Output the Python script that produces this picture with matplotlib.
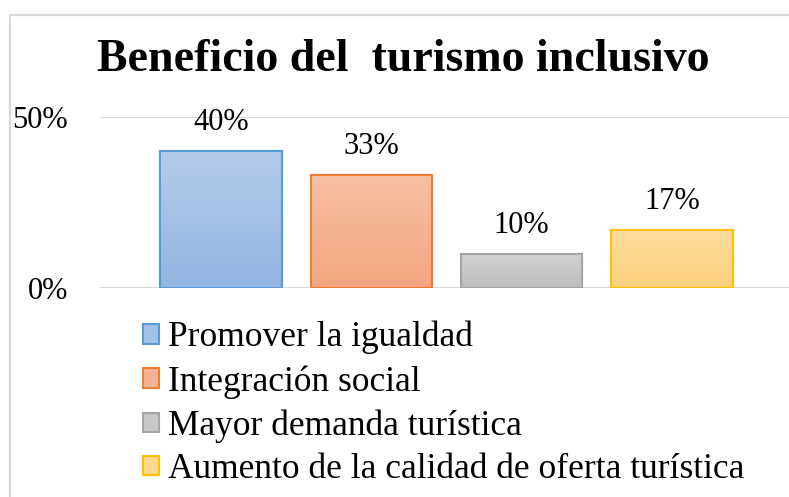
import numpy as np
import matplotlib
matplotlib.use("Agg")
import matplotlib.pyplot as plt
from matplotlib.colors import LinearSegmentedColormap
from matplotlib.lines import Line2D

plt.rcParams['font.family'] = ['Liberation Serif', 'DejaVu Serif']

# data
categories = ["Promover la igualdad", "Integración social",
              "Mayor demanda turística", "Aumento de la calidad de oferta turística"]
values = [0.40, 0.33, 0.10, 0.17]
value_labels = ["40%", "33%", "10%", "17%"]
ytick_values = [0.0, 0.5]
ytick_labels = ["0%", "50%"]

top_colors = ["#b4cceb", "#f7c0a4", "#d2d2d2", "#fedc9d"]
bottom_colors = ["#92b5e1", "#f4a580", "#bdbdbd", "#fdd27f"]
edge_colors = ["#5b9bd5", "#ed7d31", "#a5a5a5", "#ffc000"]
legend_colors = ["#a4c1e7", "#f5b294", "#c8c8c8", "#fed88f"]

W, H = 789, 497
fig = plt.figure(figsize=(W / 100, H / 100), dpi=100)

# chart area border (left and top only visible)
fig.add_artist(Line2D([10 / W, 10 / W], [0, 1 - 15 / H], color="#d9d9d9", lw=1.6))
fig.add_artist(Line2D([10 / W, 1], [1 - 15 / H, 1 - 15 / H], color="#d9d9d9", lw=1.6))

ax = fig.add_axes([100 / W, 1 - 288 / H, 1 - 100 / W, (288 - 117) / H])

x = np.arange(len(values))
width = 0.81
bars = ax.bar(x, values, width, color=legend_colors, edgecolor=edge_colors,
              linewidth=1.5, zorder=3)

# vertical gradient inside each bar
for b, tc, bc in zip(bars, top_colors, bottom_colors):
    cmap = LinearSegmentedColormap.from_list("g", [bc, tc])
    grad = np.linspace(0, 1, 100).reshape(-1, 1)
    im = ax.imshow(grad, cmap=cmap, origin="lower", aspect="auto",
                   extent=[b.get_x(), b.get_x() + b.get_width(), 0, b.get_height()],
                   zorder=3.5)
    im.set_clip_path(b)
    # redraw the edge on top
    ax.bar(b.get_x() + b.get_width() / 2, b.get_height(), b.get_width(),
           facecolor="none", edgecolor=b.get_edgecolor(), linewidth=1.5, zorder=4)

for b, lab in zip(bars, value_labels):
    ax.annotate(lab, (b.get_x() + b.get_width() / 2, b.get_height()),
                xytext=(0, 10), textcoords="offset points", ha="center", va="bottom",
                fontsize=22, annotation_clip=False)

ax.set_xlim(-0.807, 3.78)
ax.set_ylim(0, 0.5)
ax.set_yticks(ytick_values)
ax.set_yticklabels(ytick_labels, fontsize=22)
ax.tick_params(axis="y", length=0, pad=23)
ax.set_xticks([])
ax.yaxis.grid(True, color="#d9d9d9", lw=1.5, zorder=0)
for s in ax.spines.values():
    s.set_visible(False)

fig.text(403 / W, 1 - 60 / H, "Beneficio del  turismo inclusivo",
         ha="center", va="center", fontsize=33, fontweight="bold")

handles = [plt.Rectangle((0, 0), 1, 1, facecolor=fc, edgecolor=ec, linewidth=1.5)
           for fc, ec in zip(legend_colors, edge_colors)]
fig.legend(handles, categories, loc="upper left",
           bbox_to_anchor=(143 / W, 1 - 321 / H), frameon=False, fontsize=25.5,
           handlelength=0.46, handleheight=0.46, handletextpad=0.25,
           labelspacing=0.3, borderpad=0, borderaxespad=0)

fig.savefig("out.png", dpi=100)
